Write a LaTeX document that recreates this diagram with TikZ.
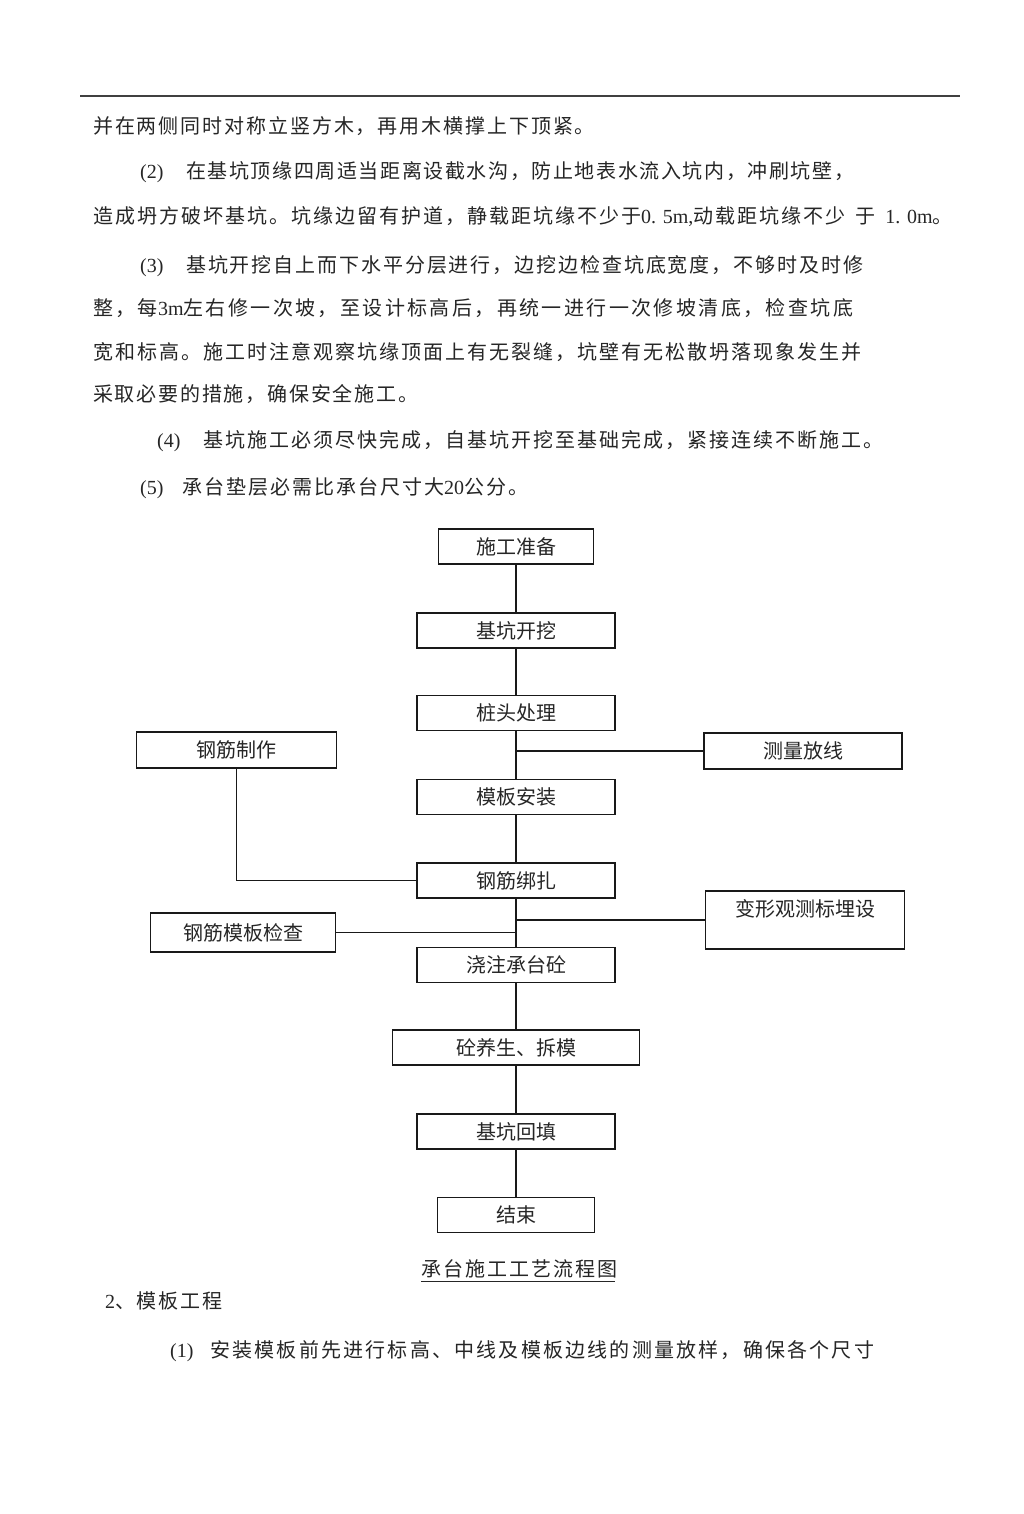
\documentclass[tikz,border=0pt]{standalone}
\usepackage{fontspec}
\setmainfont{Noto Sans CJK SC}
\newfontfamily\lat{Liberation Serif}
\begin{document}
\begin{tikzpicture}[x=1pt,y=-1pt,
  txt/.style={anchor=base west, inner sep=0pt, font=\fontsize{20}{24}\selectfont, text=black!85},
  box/.style={draw=black!90, line width=1.5pt, inner sep=0pt, font=\fontsize{20}{24}\selectfont, text=black!85, fill=white},
  conn/.style={draw=black!90, line width=1.3pt}]
\fill[white] (0,0) rectangle (1024,1514);
\useasboundingbox (0,0) rectangle (1024,1514);
% header rule
\draw[line width=1.2pt, black!75] (80,96) -- (960,96);
% body text
\node[txt] (r1) at (93,133.5) {\addfontfeature{LetterSpace=9.5}并在两侧同时对称立竖方木，再用木横撑上下顶紧。};
\node[txt] (r2a) at (140,178.5) {\lat (2)};
\node[txt] (r2b) at (186,178.5) {\addfontfeature{LetterSpace=8}在基坑顶缘四周适当距离设截水沟，防止地表水流入坑内，冲刷坑壁，};
\node[txt] (r3) at (93,223.5) {\addfontfeature{LetterSpace=10}造成坍方破坏基坑。坑缘边留有护道，静载距坑缘不少于{\lat 0. 5m,}动载距坑缘不少\hspace{10pt}于\hspace{10pt}{\lat 1. 0m}。};
\node[txt] (r4a) at (140,272.5) {\lat (3)};
\node[txt] (r4b) at (186,272.5) {\addfontfeature{LetterSpace=9.5}基坑开挖自上而下水平分层进行，边挖边检查坑底宽度，不够时及时修};
\node[txt] (r5) at (93,315.5) {\addfontfeature{LetterSpace=12}整，每{\lat 3m}左右修一次坡，至设计标高后，再统一进行一次修坡清底，检查坑底};
\node[txt] (r6) at (93,359.5) {\addfontfeature{LetterSpace=10}宽和标高。施工时注意观察坑缘顶面上有无裂缝，坑壁有无松散坍落现象发生并};
\node[txt] (r7) at (93,401.5) {\addfontfeature{LetterSpace=9}采取必要的措施，确保安全施工。};
\node[txt] (r8a) at (157,447.5) {\lat (4)};
\node[txt] (r8b) at (203,447.5) {\addfontfeature{LetterSpace=10}基坑施工必须尽快完成，自基坑开挖至基础完成，紧接连续不断施工。};
\node[txt] (r9a) at (140,494.5) {\lat (5)};
\node[txt] (r9b) at (182,494.5) {\addfontfeature{LetterSpace=10}承台垫层必需比承台尺寸大{\lat 20}公分。};
% flowchart boxes
\node[box, minimum width=155, minimum height=35] (prep) at (516,546.5) {施工准备};
\node[box, minimum width=198, minimum height=35] (dig) at (516,630.5) {基坑开挖};
\node[box, minimum width=198, minimum height=35] (pile) at (516,713) {桩头处理};
\node[box, minimum width=200, minimum height=36] (make) at (236.5,750) {钢筋制作};
\node[box, minimum width=198, minimum height=36] (survey) at (803,751) {测量放线};
\node[box, minimum width=198, minimum height=35] (form) at (516,797) {模板安装};
\node[box, minimum width=198, minimum height=35] (tie) at (516,880.5) {钢筋绑扎};
\node[box, minimum width=199, minimum height=58, text depth=24pt] (deform) at (805,920) {变形观测标埋设};
\node[box, minimum width=185, minimum height=39] (check) at (243,932.5) {钢筋模板检查};
\node[box, minimum width=198, minimum height=35] (pour) at (516,965) {浇注承台砼};
\node[box, minimum width=247, minimum height=35] (cure) at (516,1047.5) {砼养生、拆模};
\node[box, minimum width=198, minimum height=35] (back) at (516,1131.5) {基坑回填};
\node[box, minimum width=157, minimum height=35] (fin) at (516,1215) {结束};
% connectors
\draw[conn] (prep) -- (dig);
\draw[conn] (dig) -- (pile);
\draw[conn] (pile) -- (form);
\coordinate (j1) at (pile.south |- survey.west);
\draw[conn] (j1) -- (survey.west);
\draw[conn] (make.south) |- (tie.west);
\draw[conn] (form) -- (tie);
\draw[conn] (tie) -- (pour);
\coordinate (j2) at (tie.south |- deform.west);
\draw[conn] (j2) -- (deform.west);
\coordinate (j3) at (check.east -| tie.south);
\draw[conn] (check.east) -- (j3);
\draw[conn] (pour) -- (cure);
\draw[conn] (cure) -- (back);
\draw[conn] (back) -- (fin);
% caption and following text
\node[txt] (cap) at (421,1276.5) {\addfontfeature{LetterSpace=10}承台施工工艺流程图};
\coordinate (u1) at ([yshift=-5pt]cap.base west);
\coordinate (u2) at ([yshift=-5pt,xshift=-2pt]cap.base east);
\draw[line width=1pt, black!85] (u1) -- (u2);
\node[txt] (h2) at (105,1308.5) {{\lat 2}\addfontfeature{LetterSpace=9}、模板工程};
\node[txt] (p1a) at (170,1357.5) {\lat (1)};
\node[txt] (p1b) at (210,1357.5) {\addfontfeature{LetterSpace=11}安装模板前先进行标高、中线及模板边线的测量放样，确保各个尺寸};
\end{tikzpicture}
\end{document}
